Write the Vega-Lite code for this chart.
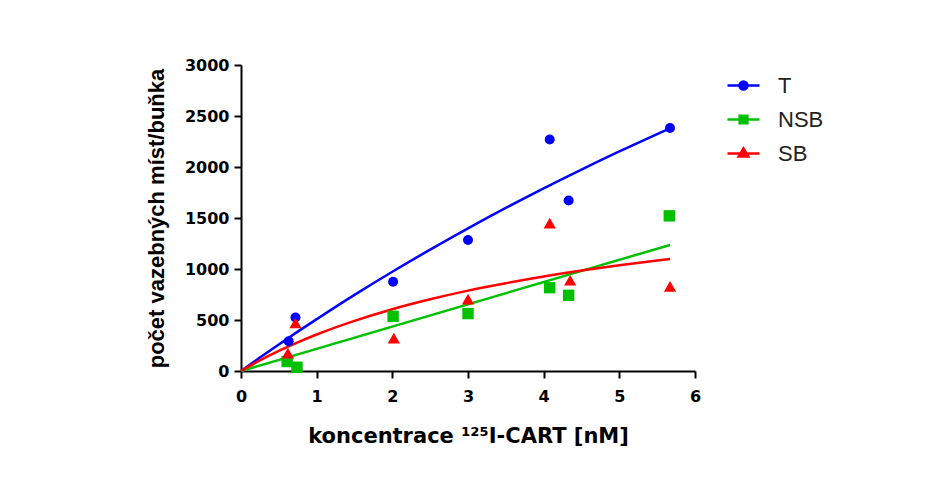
{
  "$schema": "https://vega.github.io/schema/vega-lite/v6.json",
  "width": 454,
  "height": 306,
  "autosize": "none",
  "padding": {"left": 241, "top": 65, "right": 251, "bottom": 122},
  "background": "white",
  "config": {
    "view": {"stroke": null},
    "axis": {
      "grid": false,
      "domainColor": "black",
      "domainWidth": 2,
      "tickColor": "black",
      "tickWidth": 2,
      "tickSize": 7,
      "labelFont": "DejaVu Sans",
      "labelFontWeight": "bold",
      "labelFontSize": 16,
      "labelColor": "black",
      "labelFlush": false,
      "titleFont": "Liberation Sans",
      "titleFontWeight": "bold",
      "titleFontSize": 21,
      "titleColor": "black"
    },
    "legend": {
      "orient": "right",
      "offset": 28,
      "padding": 3,
      "symbolSize": 1024,
      "symbolStrokeWidth": 2.5,
      "symbolOpacity": 1,
      "labelFont": "Liberation Sans",
      "labelFontSize": 22,
      "labelColor": "#222222",
      "labelOffset": 17,
      "rowPadding": 5
    }
  },
  "datasets": {
    "curves": [
      {"x": 0, "y": 0, "series": "T"},
      {"x": 0.25, "y": 132, "series": "T"},
      {"x": 0.5, "y": 260, "series": "T"},
      {"x": 0.75, "y": 386, "series": "T"},
      {"x": 1, "y": 508, "series": "T"},
      {"x": 1.5, "y": 746, "series": "T"},
      {"x": 2, "y": 973, "series": "T"},
      {"x": 2.5, "y": 1190, "series": "T"},
      {"x": 3, "y": 1399, "series": "T"},
      {"x": 3.5, "y": 1599, "series": "T"},
      {"x": 4, "y": 1791, "series": "T"},
      {"x": 4.5, "y": 1975, "series": "T"},
      {"x": 5, "y": 2153, "series": "T"},
      {"x": 5.5, "y": 2323, "series": "T"},
      {"x": 5.67, "y": 2380, "series": "T"},
      {"x": 0, "y": 0, "series": "NSB"},
      {"x": 5.67, "y": 1236, "series": "NSB"},
      {"x": 0, "y": 0, "series": "SB"},
      {"x": 0.25, "y": 104, "series": "SB"},
      {"x": 0.5, "y": 197, "series": "SB"},
      {"x": 0.75, "y": 281, "series": "SB"},
      {"x": 1, "y": 358, "series": "SB"},
      {"x": 1.5, "y": 492, "series": "SB"},
      {"x": 2, "y": 606, "series": "SB"},
      {"x": 2.5, "y": 703, "series": "SB"},
      {"x": 3, "y": 788, "series": "SB"},
      {"x": 3.5, "y": 861, "series": "SB"},
      {"x": 4, "y": 927, "series": "SB"},
      {"x": 4.5, "y": 985, "series": "SB"},
      {"x": 5, "y": 1036, "series": "SB"},
      {"x": 5.5, "y": 1083, "series": "SB"},
      {"x": 5.67, "y": 1098, "series": "SB"}
    ],
    "points": [
      {"x": 0.63, "y": 292, "series": "T"},
      {"x": 0.72, "y": 525, "series": "T"},
      {"x": 2.01, "y": 875, "series": "T"},
      {"x": 3.0, "y": 1285, "series": "T"},
      {"x": 4.08, "y": 2270, "series": "T"},
      {"x": 4.33, "y": 1671, "series": "T"},
      {"x": 5.67, "y": 2382, "series": "T"},
      {"x": 0.61, "y": 93, "series": "NSB"},
      {"x": 0.74, "y": 37, "series": "NSB"},
      {"x": 2.01, "y": 536, "series": "NSB"},
      {"x": 3.0, "y": 563, "series": "NSB"},
      {"x": 4.08, "y": 817, "series": "NSB"},
      {"x": 4.33, "y": 742, "series": "NSB"},
      {"x": 5.66, "y": 1521, "series": "NSB"},
      {"x": 0.62, "y": 175, "series": "SB"},
      {"x": 0.72, "y": 470, "series": "SB"},
      {"x": 2.02, "y": 322, "series": "SB"},
      {"x": 3.0, "y": 705, "series": "SB"},
      {"x": 4.08, "y": 1450, "series": "SB"},
      {"x": 4.35, "y": 890, "series": "SB"},
      {"x": 5.67, "y": 830, "series": "SB"}
    ]
  },
  "layer": [
    {
      "data": {"name": "curves"},
      "transform": [{"filter": "datum.series === 'T'"}],
      "mark": {"type": "line", "strokeWidth": 2.5, "interpolate": "monotone", "color": "#0000FF"},
      "encoding": {
        "x": {"field": "x", "type": "quantitative", "scale": {"domain": [0, 6], "nice": false},
          "axis": {"values": [0, 1, 2, 3, 4, 5, 6], "format": "d", "labelPadding": 10, "titlePadding": 21, "titleFont": "DejaVu Sans", "titleFontSize": 21, "title": "koncentrace ¹²⁵I-CART [nM]"}},
        "y": {"field": "y", "type": "quantitative", "scale": {"domain": [0, 3000], "nice": false},
          "axis": {"values": [0, 500, 1000, 1500, 2000, 2500, 3000], "format": "d", "labelPadding": 5, "titlePadding": 16, "titleFontSize": 22, "title": "počet vazebných míst/buňka"}}
      }
    },
    {
      "data": {"name": "curves"},
      "transform": [{"filter": "datum.series === 'NSB'"}],
      "mark": {"type": "line", "strokeWidth": 2.5, "color": "#00C000"},
      "encoding": {
        "x": {"field": "x", "type": "quantitative"},
        "y": {"field": "y", "type": "quantitative"}
      }
    },
    {
      "data": {"name": "curves"},
      "transform": [{"filter": "datum.series === 'SB'"}],
      "mark": {"type": "line", "strokeWidth": 2.5, "interpolate": "monotone", "color": "#FF0000"},
      "encoding": {
        "x": {"field": "x", "type": "quantitative"},
        "y": {"field": "y", "type": "quantitative"}
      }
    },
    {
      "data": {"name": "points"},
      "transform": [{"filter": "datum.series === 'T'"}],
      "mark": {"type": "point", "shape": "circle", "filled": true, "size": 100, "opacity": 1, "color": "#0000FF"},
      "encoding": {
        "x": {"field": "x", "type": "quantitative"},
        "y": {"field": "y", "type": "quantitative"}
      }
    },
    {
      "data": {"name": "points"},
      "transform": [{"filter": "datum.series === 'NSB'"}],
      "mark": {"type": "point", "shape": "square", "filled": true, "size": 130, "opacity": 1, "color": "#00C000"},
      "encoding": {
        "x": {"field": "x", "type": "quantitative"},
        "y": {"field": "y", "type": "quantitative"}
      }
    },
    {
      "data": {"name": "points"},
      "transform": [{"filter": "datum.series === 'SB'"}],
      "mark": {"type": "point", "shape": "triangle-up", "filled": true, "size": 150, "opacity": 1, "color": "#FF0000"},
      "encoding": {
        "x": {"field": "x", "type": "quantitative"},
        "y": {"field": "y", "type": "quantitative"}
      }
    },
    {
      "data": {"name": "points"},
      "transform": [{"filter": "datum.x < 0"}],
      "mark": {"type": "point", "filled": true},
      "encoding": {
        "x": {"field": "x", "type": "quantitative"},
        "y": {"field": "y", "type": "quantitative"},
        "fill": {"field": "series", "type": "nominal", "scale": {"domain": ["T", "NSB", "SB"], "range": ["#0000FF", "#00C000", "#FF0000"]}, "legend": {"title": null}},
        "stroke": {"field": "series", "type": "nominal", "scale": {"domain": ["T", "NSB", "SB"], "range": ["#0000FF", "#00C000", "#FF0000"]}, "legend": {"title": null}},
        "shape": {"field": "series", "type": "nominal", "legend": {"title": null}, "scale": {"domain": ["T", "NSB", "SB"], "range": [
          "M-1,0H1M-0.25,0A0.25,0.25 0 1,1 0.25,0A0.25,0.25 0 1,1 -0.25,0Z",
          "M-1,0H1M-0.24,-0.24H0.24V0.24H-0.24Z",
          "M-1,0H1M0,-0.32L0.3,0.18H-0.3Z"
        ]}}
      }
    }
  ]
}
